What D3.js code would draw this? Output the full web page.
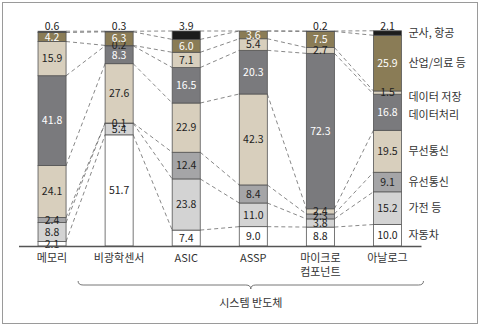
<!DOCTYPE html>
<html><head><meta charset="utf-8">
<script src="https://cdn.jsdelivr.net/npm/d3@7"></script>
<style>
body{margin:0;background:#fff;}
svg{display:block;font-family:"Noto Sans CJK KR","Noto Sans",sans-serif;}
</style></head>
<body><svg id="c" width="480" height="326"></svg>
<script>
const categories = ["메모리","비광학센서","ASIC","ASSP","마이크로\n컴포넌트","아날로그"];
const seriesNames = ["자동차","가전 등","유선통신","무선통신","데이터처리","데이터 저장","산업/의료 등","군사, 항공"];
const autoV     = [2.1, 51.7, 7.4, 9.0, 8.8, 10.0];
const homeV     = [8.8, 5.4, 23.8, 11.0, 3.8, 15.2];
const wiredV    = [2.4, 0.1, 12.4, 8.4, 2.3, 9.1];
const wirelessV = [24.1, 27.6, 22.9, 42.3, 2.4, 19.5];
const dataProcV = [41.8, 8.3, 16.5, 20.3, 72.3, 16.8];
const storageV  = [15.9, 0.2, 7.1, 5.4, 2.7, 1.5];
const industryV = [4.2, 6.3, 6.0, 3.6, 7.5, 25.9];
const militaryV = [0.6, 0.3, 3.9, 0.0, 0.2, 2.1];
const groupLabel = "시스템 반도체";

const seriesValues = [autoV, homeV, wiredV, wirelessV, dataProcV, storageV, industryV, militaryV];
const colors = ["#ffffff","#d3d3d3","#a5a5a7","#d8cfbd","#7a7a7d","#d8cfbd","#8a7c56","#1c1c1c"];
const darkSeries = [false,false,false,false,true,false,true,true];
const legendNudge = [0,0,0,0,3,4,0,0];

const svg = d3.select("#c");
svg.append("rect").attr("x",2.5).attr("y",2.5).attr("width",475).attr("height",321)
  .attr("fill","#fff").attr("stroke","#9a9a9a").attr("stroke-width",1);

const x = d3.scaleBand().domain(categories).range([18.5,421]).paddingInner(0.582).paddingOuter(0.291);
const y = d3.scaleLinear().domain([0,100]).range([246,31]);

const rows = categories.map((c,i)=>{const o={cat:c}; seriesNames.forEach((s,j)=>o[s]=seriesValues[j][i]); return o;});
const stacked = d3.stack().keys(seriesNames)(rows);

// dashed series lines
const gl = svg.append("g");
for (let i=0;i<categories.length-1;i++){
  const x1 = x(categories[i])+x.bandwidth(), x2 = x(categories[i+1]);
  stacked.forEach(layer=>{
    gl.append("line").attr("x1",x1).attr("x2",x2)
      .attr("y1",y(layer[i][1])).attr("y2",y(layer[i+1][1]))
      .attr("stroke","#6a6a6a").attr("stroke-width",0.8).attr("stroke-dasharray","4,3");
  });
}

// bars
stacked.forEach((layer,j)=>{
  svg.append("g").selectAll("rect").data(layer.filter(d=>(d[1]-d[0])>0)).join("rect")
    .attr("x",d=>x(d.data.cat))
    .attr("y",d=>y(d[1]))
    .attr("width",x.bandwidth())
    .attr("height",d=>Math.max(0,y(d[0])-y(d[1])))
    .attr("fill",colors[j])
    .attr("stroke","#555").attr("stroke-width",0.8);
});

// labels
stacked.forEach((layer,j)=>{
  const isTop = j===seriesNames.length-1;
  svg.append("g").selectAll("text").data(layer.filter(d=>(d[1]-d[0])>0)).join("text")
    .attr("x",d=>x(d.data.cat)+x.bandwidth()/2)
    .attr("y",d=> isTop ? y(d[1])-5 : (y(d[0])+y(d[1]))/2)
    .attr("dy","0.36em")
    .attr("text-anchor","middle")
    .attr("font-size",10.5)
    .attr("fill",d=>(darkSeries[j]&&!isTop&&(d[1]-d[0])>=3)?"#fff":"#222")
    .text(d=>(d[1]-d[0]).toFixed(1));
});

// axis
const ax = svg.append("g").attr("transform","translate(0,246)")
  .call(d3.axisBottom(x).tickSize(0).tickSizeOuter(0).tickFormat(""));
ax.select(".domain").attr("stroke","#555").attr("stroke-width",1.5);
const tl = svg.append("g");
categories.forEach(c=>{
  const t = tl.append("text").attr("x",x(c)+x.bandwidth()/2).attr("y",262)
    .attr("text-anchor","middle").attr("font-size",11).attr("fill","#333");
  c.split("\n").forEach((s,k)=>t.append("tspan").attr("x",x(c)+x.bandwidth()/2).attr("dy",k?14:0).text(s));
});

// legend labels aligned with last bar segments
const last = categories.length-1;
stacked.forEach((layer,j)=>{
  const d = layer[last];
  svg.append("text").attr("x",x(categories[last])+x.bandwidth()+7)
    .attr("y",(y(d[0])+y(d[1]))/2+legendNudge[j]).attr("dy","0.36em")
    .attr("font-size",11).attr("fill","#333").text(seriesNames[j]);
});

// brace
const bx1 = x(categories[1])-27, bx2 = x(categories[last])+x.bandwidth()+22, bm=(bx1+bx2)/2;
const by = 285;
svg.append("path").attr("fill","none").attr("stroke","#666").attr("stroke-width",0.9)
  .attr("d",`M${bx1},${by-4} Q${bx1},${by} ${bx1+5},${by} L${bm-5},${by} Q${bm},${by} ${bm},${by+4} Q${bm},${by} ${bm+5},${by} L${bx2-5},${by} Q${bx2},${by} ${bx2},${by-4}`);
svg.append("text").attr("x",bm).attr("y",303).attr("dy","0.36em").attr("text-anchor","middle")
  .attr("font-size",11).attr("fill","#333").text(groupLabel);
</script></body></html>
